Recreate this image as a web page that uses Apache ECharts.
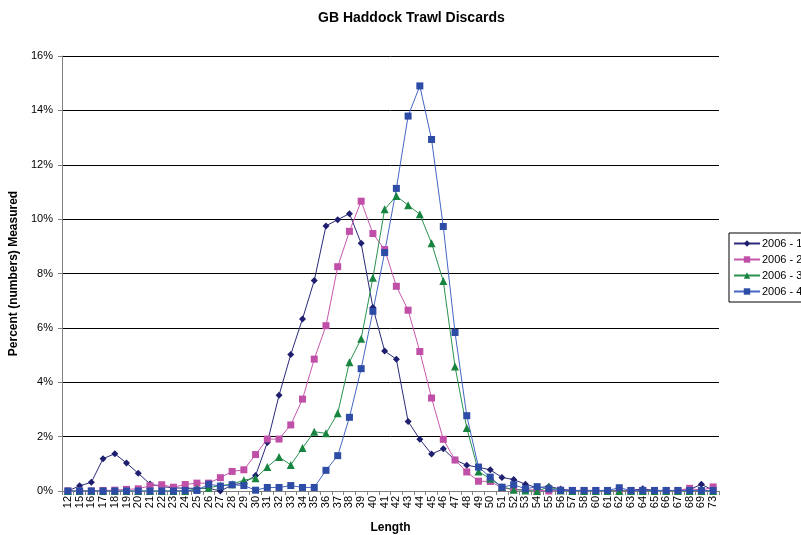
<!DOCTYPE html>
<html>
<head>
<meta charset="utf-8">
<script src="https://cdn.jsdelivr.net/npm/echarts@6/dist/echarts.min.js"></script>
<style>html,body{margin:0;padding:0;background:#fff;}#c{width:801px;height:535px;}</style>
</head>
<body>
<div id="c"></div>
<script>
const lengths = ['12','15','16','17','18','19','20','21','22','23','24','25','26','27','28','29','30','31','32','33','34','35','36','37','38','39','40','41','42','43','44','45','46','47','48','49','50','51','52','53','54','55','56','57','58','60','61','62','63','64','65','66','67','68','69','73'];
const seriesNames = ['2006 - 1','2006 - 2','2006 - 3','2006 - 4'];
const s2006_1 = [0,0.19,0.32,1.19,1.37,1.03,0.65,0.26,0.16,0.12,0.1,0.1,0.1,0.0,0.22,0.3,0.57,1.78,3.52,5.02,6.33,7.74,9.75,9.98,10.2,9.11,6.75,5.15,4.85,2.56,1.9,1.36,1.55,1.14,0.95,0.87,0.78,0.5,0.42,0.25,0.12,0.17,0.07,0.02,0.02,0.02,0.02,0.02,0.02,0.08,0.02,0.02,0.02,0.05,0.25,0.02];
const s2006_2 = [0,0,0,0.02,0.03,0.06,0.08,0.19,0.23,0.14,0.24,0.29,0.29,0.49,0.72,0.78,1.34,1.91,1.91,2.43,3.38,4.85,6.08,8.25,9.55,10.66,9.47,8.88,7.53,6.65,5.13,3.42,1.9,1.14,0.7,0.36,0.35,0.12,0.05,0.05,0.03,0.0,0.03,0.02,0.02,0.02,0.0,0.02,0.02,0.02,0.02,0.02,0.02,0.1,0.02,0.15];
const s2006_3 = [0,0,0,0,0,0,0,0,0,0,0,0.08,0.12,0.2,0.25,0.4,0.47,0.88,1.25,0.96,1.58,2.18,2.12,2.86,4.74,5.6,7.84,10.36,10.85,10.51,10.18,9.11,7.72,4.58,2.32,0.72,0.45,0.15,0.05,0.02,0.0,0.15,0.02,0,0,0,0,0,0,0,0,0,0,0,0,0];
const s2006_4 = [0,0,0,0,0,0,0,0,0,0,0.02,0.02,0.25,0.18,0.23,0.2,0.03,0.13,0.13,0.2,0.13,0.13,0.76,1.3,2.71,4.5,6.61,8.77,11.13,13.79,14.9,12.93,9.73,5.83,2.77,0.88,0.51,0.14,0.23,0.08,0.16,0.08,0.02,0.02,0.02,0.02,0.02,0.12,0.02,0.02,0.02,0.02,0.02,0.02,0.02,0.02];
const yTicks = {min:0, max:16, interval:2};

const font = 'Liberation Sans, Arial, sans-serif';
const chart = echarts.init(document.getElementById('c'), null, {renderer:'canvas'});
const mk = (name, data, color, lineColor, symbol, size) => ({
  name, type:'line', data, symbol, symbolSize:size, showAllSymbol:true,
  itemStyle:{color:color},
  lineStyle:{color:lineColor, width:1},
  emphasis:{disabled:true}, animation:false
});
chart.setOption({
  animation:false,
  textStyle:{fontFamily:font},
  title:{text:'GB Haddock Trawl Discards', left:313, top:6,
    textStyle:{fontFamily:font, fontSize:14, fontWeight:'bold', color:'#000'}},
  grid:{left:62, right:82, top:56, bottom:44, outerBoundsMode:'none', containLabel:false},
  legend:{orient:'vertical', left:729, top:233, padding:[5,4,5,4], itemGap:5,
    itemWidth:26, itemHeight:8, borderColor:'#000', borderWidth:1, backgroundColor:'#fff',
    textStyle:{fontFamily:font, fontSize:11, color:'#000', padding:[0,0,0,-3]},
    data:seriesNames},
  xAxis:{type:'category', data:lengths, boundaryGap:true,
    name:'Length', nameLocation:'middle', nameGap:31,
    nameTextStyle:{fontFamily:font, fontSize:12, fontWeight:'bold', color:'#000'},
    axisLine:{lineStyle:{color:'#808080', width:1}},
    axisTick:{show:true, length:4, interval:0, lineStyle:{color:'#808080'}},
    axisLabel:{interval:0, rotate:90, fontSize:11, color:'#000', fontFamily:font, margin:5},
    splitLine:{show:false}},
  yAxis:{type:'value', min:yTicks.min, max:yTicks.max, interval:yTicks.interval,
    name:'Percent (numbers) Measured', nameLocation:'middle', nameGap:40,
    nameTextStyle:{fontFamily:font, fontSize:12, fontWeight:'bold', color:'#000'},
    axisLine:{show:true, lineStyle:{color:'#808080', width:1}},
    axisTick:{show:true, length:4, lineStyle:{color:'#808080'}},
    axisLabel:{formatter:'{value}%', fontSize:11, color:'#000', fontFamily:font, margin:9},
    splitLine:{show:true, lineStyle:{color:'#000', width:1}}},
  series:[
    mk(seriesNames[0], s2006_1, '#1f1f70', '#2a2a78', 'diamond', 7),
    mk(seriesNames[1], s2006_2, '#c04fa8', '#c657ad', 'rect', 7),
    mk(seriesNames[2], s2006_3, '#17853f', '#2a9150', 'triangle', 8),
    mk(seriesNames[3], s2006_4, '#2c4ca6', '#4466c4', 'rect', 7)
  ]
});
</script>
</body>
</html>
